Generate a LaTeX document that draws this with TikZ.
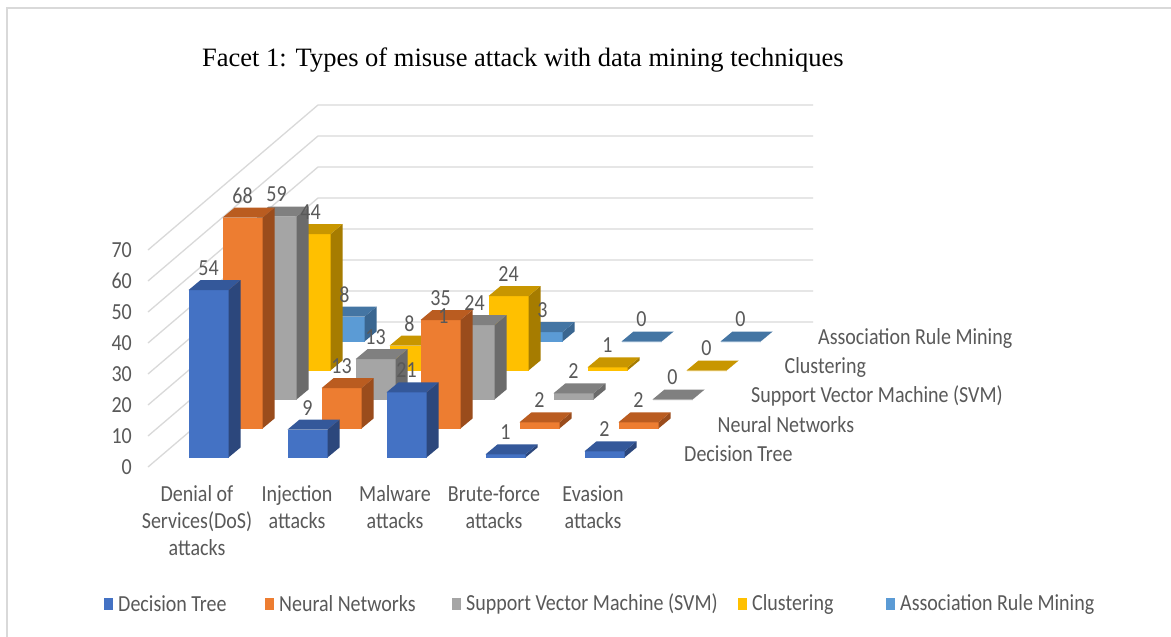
\documentclass[tikz,border=0pt]{standalone}
\usepackage{fontspec}
\usepackage{graphicx}
\setmainfont{Liberation Serif}
\newfontfamily\calib{Carlito}
\definecolor{txtgray}{HTML}{595959}
\definecolor{gridgray}{HTML}{D9D9D9}
\definecolor{dtF}{HTML}{4472C4}\definecolor{dtT}{HTML}{34589A}\definecolor{dtS}{HTML}{2C477C}
\definecolor{nnF}{HTML}{ED7D31}\definecolor{nnT}{HTML}{BA5C20}\definecolor{nnS}{HTML}{9A4C1C}
\definecolor{svF}{HTML}{A5A5A5}\definecolor{svT}{HTML}{808080}\definecolor{svS}{HTML}{6B6B6B}
\definecolor{clF}{HTML}{FFC000}\definecolor{clT}{HTML}{C89600}\definecolor{clS}{HTML}{A67C00}
\definecolor{arF}{HTML}{5B9BD5}\definecolor{arT}{HTML}{4475A3}\definecolor{arS}{HTML}{3A6690}
\newcommand\tall[1]{\scalebox{1}[1.15]{#1}}
\newcommand\catlbl[1]{\tall{\begin{tabular}{@{}c@{}}#1\end{tabular}}}
\newcommand\mybar[4]{% k s v color-prefix
  \pgfmathsetmacro\bL{188.5+99*#1+34*#2}
  \pgfmathsetmacro\bR{\bL+40}
  \pgfmathsetmacro\bB{457.5-29*#2}
  \pgfmathsetmacro\bT{\bB-3.1*#3}
  \fill[#4F] (\bL,\bT) rectangle (\bR,\bB);
  \fill[#4S] (\bR,\bB) -- (\bR+12,\bB-10) -- (\bR+12,\bT-10) -- (\bR,\bT) -- cycle;
  \fill[#4T] (\bL,\bT) -- (\bR,\bT) -- (\bR+12,\bT-10) -- (\bL+12,\bT-10) -- cycle;
}
\newcommand\mylbl[3]{% k s v
  \pgfmathsetmacro\bL{188.5+99*#1+34*#2}
  \pgfmathsetmacro\bT{457.5-29*#2-3.1*#3}
  \node[lbl] (v-#1-#2) at (\bL+20,\bT-22) {\tall{#3}};
}
\begin{document}
\begin{tikzpicture}[x=1pt,y=-1pt,
  lbl/.style={font=\calib\fontsize{20}{23.5}\selectfont, text=txtgray, inner sep=0pt},
  gridln/.style={draw=gridgray, line width=1.3pt},
  legsq/.style={inner sep=0pt, minimum width=9pt, minimum height=12pt}]
\useasboundingbox (0,0) rectangle (1171,637);
\fill[white] (0,0) rectangle (1171,637);
% frame
\draw[gridgray, line width=2pt] (1171,8) -- (7,8) -- (7,637);
% title
\node[font=\fontsize{26.5}{30}\selectfont, text=black, anchor=west, inner sep=0pt] (title) at (202,60) {Facet 1: Types of misuse attack with data mining techniques};
% gridlines
\foreach \j in {0,...,7}{
  \draw[gridln] (148,467-31*\j) -- (318,322-31*\j) -- (813,322-31*\j);
  \pgfmathtruncatemacro\yv{10*\j}
  \node[lbl, anchor=east] (y\j) at (132,467-31*\j) {\tall{\yv}};
}
% bars, back row first
\mybar{0}{4}{8}{ar}\mybar{1}{4}{1}{ar}\mybar{2}{4}{3}{ar}\mybar{3}{4}{0}{ar}\mybar{4}{4}{0}{ar}
\mybar{0}{3}{44}{cl}\mybar{1}{3}{8}{cl}\mybar{2}{3}{24}{cl}\mybar{3}{3}{1}{cl}\mybar{4}{3}{0}{cl}
\mybar{0}{2}{59}{sv}\mybar{1}{2}{13}{sv}\mybar{2}{2}{24}{sv}\mybar{3}{2}{2}{sv}\mybar{4}{2}{0}{sv}
\mybar{0}{1}{68}{nn}\mybar{1}{1}{13}{nn}\mybar{2}{1}{35}{nn}\mybar{3}{1}{2}{nn}\mybar{4}{1}{2}{nn}
\mybar{0}{0}{54}{dt}\mybar{1}{0}{9}{dt}\mybar{2}{0}{21}{dt}\mybar{3}{0}{1}{dt}\mybar{4}{0}{2}{dt}
% value labels
\mylbl{0}{4}{8}\mylbl{1}{4}{1}\mylbl{2}{4}{3}\mylbl{3}{4}{0}\mylbl{4}{4}{0}
\mylbl{0}{3}{44}\mylbl{1}{3}{8}\mylbl{2}{3}{24}\mylbl{3}{3}{1}\mylbl{4}{3}{0}
\mylbl{0}{2}{59}\mylbl{1}{2}{13}\mylbl{2}{2}{24}\mylbl{3}{2}{2}\mylbl{4}{2}{0}
\mylbl{0}{1}{68}\mylbl{1}{1}{13}\mylbl{2}{1}{35}\mylbl{3}{1}{2}\mylbl{4}{1}{2}
\mylbl{0}{0}{54}\mylbl{1}{0}{9}\mylbl{2}{0}{21}\mylbl{3}{0}{1}\mylbl{4}{0}{2}
% depth axis labels
\node[lbl, anchor=west] (s0) at (684,454) {\tall{Decision Tree}};
\node[lbl, anchor=west] (s1) at (717.5,425) {\tall{Neural Networks}};
\node[lbl, anchor=west] (s2) at (751,396) {\tall{Support Vector Machine (SVM)}};
\node[lbl, anchor=west] (s3) at (784.5,367) {\tall{Clustering}};
\node[lbl, anchor=west] (s4) at (818,338) {\tall{Association Rule Mining}};
% category labels
\node[lbl, anchor=north] (c0) at (197,482) {\catlbl{Denial of\\Services(DoS)\\attacks}};
\node[lbl, anchor=north] (c1) at (297,482) {\catlbl{Injection\\attacks}};
\node[lbl, anchor=north] (c2) at (395,482) {\catlbl{Malware\\attacks}};
\node[lbl, anchor=north] (c3) at (494,482) {\catlbl{Brute-force\\attacks}};
\node[lbl, anchor=north] (c4) at (593,482) {\catlbl{Evasion\\attacks}};
% legend
\node[legsq, fill=dtF] (l0) at (108.5,604) {};
\node[lbl, anchor=west] (t0) at (118,604) {\tall{Decision Tree}};
\node[legsq, fill=nnF] (l1) at (269.5,604) {};
\node[lbl, anchor=west] (t1) at (279,604) {\tall{Neural Networks}};
\node[legsq, fill=svF] (l2) at (456.5,604) {};
\node[lbl, anchor=west] (t2) at (466,604) {\tall{Support Vector Machine (SVM)}};
\node[legsq, fill=clF] (l3) at (742.5,604) {};
\node[lbl, anchor=west] (t3) at (752,604) {\tall{Clustering}};
\node[legsq, fill=arF] (l4) at (890.5,604) {};
\node[lbl, anchor=west] (t4) at (900,604) {\tall{Association Rule Mining}};
\end{tikzpicture}
\end{document}
